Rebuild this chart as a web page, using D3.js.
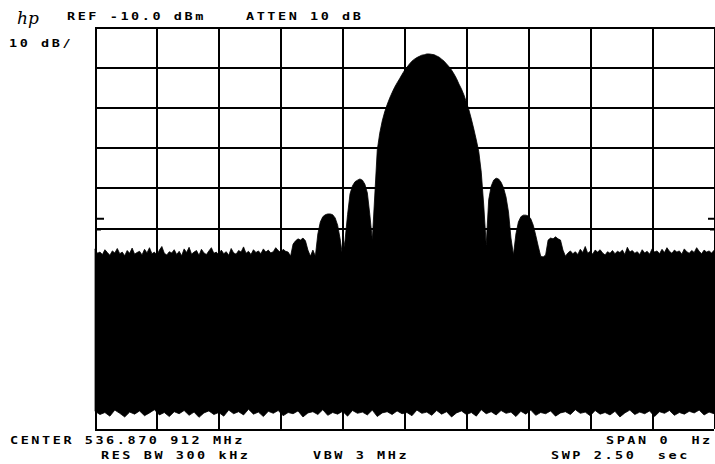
<!DOCTYPE html>
<html><head><meta charset="utf-8">
<script src="https://cdn.jsdelivr.net/npm/d3@7"></script>
<style>body{margin:0;background:#fff}svg{display:block}</style>
</head><body><svg id="c" width="715" height="464"></svg>
<script>
// ---- instrument settings ----
const sweepTimeSec = 2.5;
const refLevelDbm = -10;
const dbPerDiv = 10;
const numDivs = 10;
const upperStepSec = 0.01;   // upper envelope sample spacing
const lowerStepSec = 0.02;   // lower envelope sample spacing

// ---- trace: upper envelope (dBm), one value per 0.01 s, t = 0 .. 2.50 s ----
const traceUpper = [
-65.2,-66.3,-66.0,-66.6,-65.4,-66.1,-66.8,-65.7,-66.2,-65.1,
-66.4,-66.0,-66.9,-65.6,-66.3,-65.0,-66.5,-66.1,-65.8,-66.7,
-65.3,-66.2,-64.9,-66.4,-66.0,-66.8,-65.5,-64.6,-66.3,-66.7,
-65.9,-66.2,-65.4,-66.6,-65.8,-66.9,-65.2,-66.1,-64.8,-66.5,
-66.0,-65.6,-66.8,-65.3,-66.2,-66.6,-65.7,-64.9,-66.3,-66.0,
-66.7,-65.5,-66.4,-65.9,-66.8,-65.1,-66.2,-66.5,-65.6,-66.0,
-64.7,-66.3,-65.8,-66.6,-65.4,-66.1,-65.7,-66.4,-65.2,-66.0,
-65.5,-66.2,-65.9,-64.9,-65.6,-66.1,-65.3,-65.8,-66.0,-67.0,
-64.0,-63.2,-62.7,-63.0,-62.5,-63.2,-65.5,-67.0,-65.5,-67.0,
-61.5,-58.5,-57.2,-56.7,-56.5,-56.5,-56.7,-57.5,-59.3,-62.7,
-67.0,-63.0,-56.7,-51.5,-49.5,-48.5,-48.1,-47.8,-48.1,-49.1,
-51.3,-56.7,-63.0,-51.8,-40.6,-36.4,-33.4,-31.1,-29.3,-27.7,
-26.3,-25.0,-23.9,-22.9,-21.8,-20.8,-20.0,-19.2,-18.5,-18.0,
-17.6,-17.3,-17.0,-16.9,-16.7,-16.7,-16.8,-16.9,-17.2,-17.5,
-18.0,-18.5,-19.2,-19.9,-20.7,-21.7,-22.8,-24.2,-25.4,-26.9,
-28.7,-30.6,-32.9,-35.4,-38.1,-41.0,-46.1,-54.3,-64.2,-53.0,
-49.6,-48.1,-47.6,-47.8,-48.6,-50.0,-52.3,-56.0,-62.5,-66.7,
-61.5,-58.5,-57.2,-56.8,-56.8,-57.0,-57.7,-59.3,-61.8,-64.5,
-67.0,-67.2,-66.7,-63.0,-62.5,-62.7,-62.2,-62.7,-63.0,-65.5,
-67.0,-66.2,-65.7,-66.4,-65.9,-66.6,-65.3,-66.1,-64.6,-66.3,
-65.8,-66.5,-65.5,-66.0,-65.4,-66.2,-66.7,-65.9,-66.3,-65.6,
-66.4,-65.8,-66.1,-65.5,-66.6,-64.8,-66.0,-65.6,-66.3,-65.9,
-66.6,-65.4,-66.2,-65.8,-66.5,-65.2,-66.0,-65.7,-66.4,-65.3,
-66.1,-64.9,-65.8,-66.3,-65.5,-66.0,-65.7,-66.5,-65.2,-65.9,
-66.3,-65.6,-66.1,-64.9,-65.8,-66.4,-65.5,-66.0,-65.7,-66.2,
-65.6
];

// ---- trace: lower envelope (dBm), one value per 0.02 s, t = 0 .. 2.50 s ----
const traceLower = [
-105.6,-106.4,-105.9,-106.8,-105.3,-106.1,-107.0,-105.8,-106.3,-105.5,
-106.7,-106.0,-105.2,-106.5,-105.9,-106.9,-105.7,-106.2,-105.4,-106.6,
-105.8,-107.1,-106.0,-105.5,-106.4,-105.9,-106.8,-105.3,-106.2,-105.7,
-106.5,-105.1,-106.3,-105.8,-106.9,-105.6,-106.1,-105.4,-106.7,-105.9,
-106.2,-105.5,-107.0,-106.0,-105.7,-106.4,-105.2,-106.6,-105.9,-106.3,
-105.6,-106.8,-105.4,-106.1,-105.8,-106.5,-105.3,-106.9,-106.0,-105.7,
-106.4,-105.5,-106.2,-105.9,-106.7,-105.3,-106.1,-105.8,-106.6,-105.4,
-106.3,-105.7,-107.0,-106.0,-105.5,-106.4,-105.9,-106.8,-105.2,-106.2,
-105.7,-106.5,-105.4,-106.1,-105.8,-106.9,-105.6,-106.3,-105.3,-106.6,
-105.9,-106.2,-105.5,-106.8,-106.0,-105.7,-106.4,-105.2,-106.1,-105.8,
-106.7,-105.4,-106.3,-105.9,-106.5,-105.6,-107.0,-106.0,-105.3,-106.4,
-105.8,-106.2,-105.5,-106.9,-105.7,-106.1,-105.4,-106.6,-105.9,-106.3,
-105.6,-106.0,-105.3,-106.5,-105.8,-106.2
];

// ---- annotation text ----
const logoText = "hp";
const headerLabels = ["REF -10.0 dBm", "ATTEN 10 dB"];
const scaleLabel = "10 dB/";
const footerLabels = ["CENTER 536.870 912 MHz", "RES BW 300 kHz", "VBW 3 MHz", "SPAN 0  Hz", "SWP 2.50  sec"];

// ---- layout ----
const plot = {left: 95, right: 714, top: 27, bottom: 429};
const svg = d3.select("#c");
svg.append("rect").attr("width", 715).attr("height", 464).attr("fill", "#fff");

const x = d3.scaleLinear().domain([0, sweepTimeSec]).range([plot.left, plot.right]);
const y = d3.scaleLinear().domain([refLevelDbm - dbPerDiv * numDivs, refLevelDbm]).range([plot.bottom, plot.top]);

// grid via axes
const xTicks = d3.range(0, numDivs + 1).map(d => d * sweepTimeSec / numDivs);
const yTicks = d3.range(0, numDivs + 1).map(d => refLevelDbm - d * dbPerDiv);

const gx = svg.append("g").attr("transform", `translate(0,${plot.bottom})`)
  .call(d3.axisBottom(x).tickValues(xTicks).tickSize(-(plot.bottom - plot.top)).tickFormat(""));
const gy = svg.append("g").attr("transform", `translate(${plot.left},0)`)
  .call(d3.axisLeft(y).tickValues(yTicks).tickSize(-(plot.right - plot.left)).tickFormat(""));
[gx, gy].forEach(g => {
  g.select(".domain").remove();
  g.selectAll(".tick line").attr("stroke", "#000").attr("stroke-width", 2).attr("shape-rendering", "crispEdges");
});

// trace (filled between upper and lower envelopes)
const pts = traceUpper.map((v, i) => [x(i * upperStepSec), y(v)])
  .concat(traceLower.map((v, j) => [x(j * lowerStepSec), y(v)]).reverse());
svg.append("path")
  .attr("d", d3.line()(pts) + "Z")
  .attr("fill", "#000").attr("stroke", "#000").attr("stroke-width", 0.8).attr("stroke-linejoin", "miter");

// display-line edge markers
const markerLevels = [-57.7, -60.5];
markerLevels.forEach((lv, k) => {
  svg.append("line").attr("x1", plot.left).attr("x2", plot.left + (k ? 6 : 9))
    .attr("y1", y(lv)).attr("y2", y(lv)).attr("stroke", "#000").attr("stroke-width", k ? 1 : 2);
  svg.append("line").attr("x1", plot.right - (k ? 4 : 6)).attr("x2", plot.right)
    .attr("y1", y(lv)).attr("y2", y(lv)).attr("stroke", "#000").attr("stroke-width", k ? 1 : 2);
});

// text helper: wide monospaced instrument font
function label(str, px, py) {
  svg.append("g").attr("transform", `translate(${px},${py}) scale(1.35,1)`)
    .append("text").text(str)
    .attr("font-family", "'DejaVu Sans Mono', monospace")
    .attr("font-weight", "bold").attr("font-size", 10)
    .attr("letter-spacing", 1.9)
    .style("white-space", "pre")
    .attr("fill", "#000");
}

svg.append("text").text(logoText).attr("x", 17).attr("y", 24)
  .attr("font-family", "'DejaVu Serif', serif").attr("font-style", "italic")
  .attr("font-size", 17).attr("fill", "#000");

label(headerLabels[0], 67, 20);
label(headerLabels[1], 246, 20);
label(scaleLabel, 9, 47);
label(footerLabels[0], 10, 444);
label(footerLabels[1], 101, 459);
label(footerLabels[2], 313, 459);
label(footerLabels[3], 606, 444);
label(footerLabels[4], 551, 459);
</script></body></html>
